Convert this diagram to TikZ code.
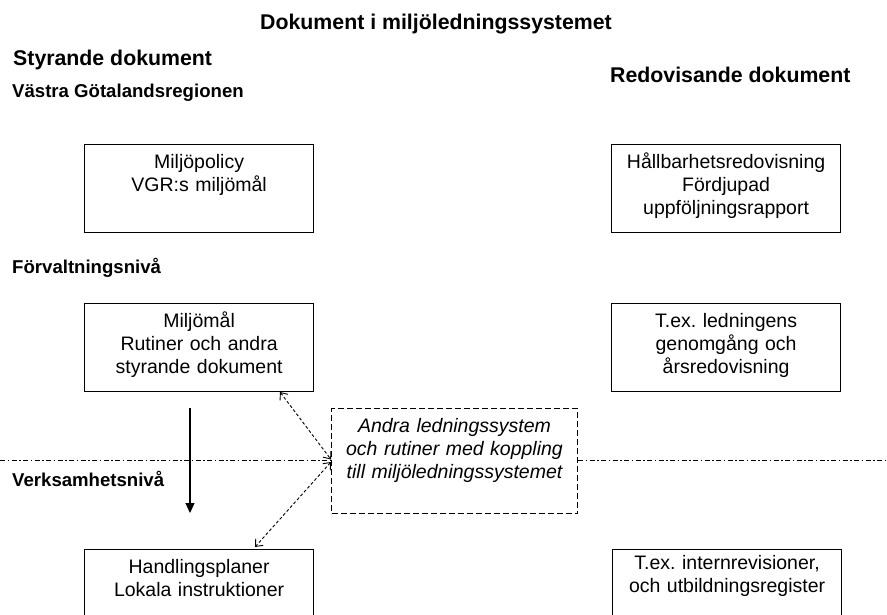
\documentclass[tikz,border=0pt]{standalone}
\usepackage{fontspec}
\setmainfont{Liberation Sans}
\usetikzlibrary{arrows.meta}
\frenchspacing
\def\boxfont{\fontsize{19.5}{23}\selectfont}
\def\headfont{\fontsize{21.3}{25}\selectfont\bfseries}
\def\levelfont{\fontsize{18.6}{22}\selectfont\bfseries}
\tikzset{
  docbox/.style={draw, line width=1.2pt, inner sep=0pt, align=center, anchor=north west,
    text width=229pt, text height=24pt, text depth=64pt, font=\boxfont},
  head/.style={anchor=base west, inner sep=0pt, font=\headfont},
  level/.style={anchor=base west, inner sep=0pt, font=\levelfont},
  link/.style={line width=0.9pt, dash pattern=on 3pt off 2.2pt,
    {Straight Barb[length=6pt,width=10pt]}-{Straight Barb[length=6pt,width=10pt]}},
  divider/.style={line width=0.8pt, dash pattern=on 5pt off 2.5pt on 1.5pt off 2.5pt}
}

\begin{document}
\begin{tikzpicture}[x=1pt,y=-1pt]
  \clip (0,0) rectangle (887,615);
  \fill[white] (0,0) rectangle (887,615);

  \node[anchor=base, inner sep=0pt, font=\headfont] (title) at (436,30) {Dokument i miljöledningssystemet};
  \node[head] (styr) at (13,66) {Styrande dokument};
  \node[level] (vgr) at (12,98) {Västra Götalandsregionen};
  \node[head] (redo) at (610,83) {Redovisande dokument};
  \node[level] (forv) at (12,273) {Förvaltningsnivå};
  \node[level] (verk) at (12,486) {Verksamhetsnivå};

  \node[docbox] (policy) at (84,144) {Miljöpolicy\\VGR:s miljömål};
  \node[docbox] (hallbar) at (611,144) {Hållbarhetsredovisning\\Fördjupad\\uppföljningsrapport};
  \node[docbox] (malbox) at (84,303) {Miljömål\\Rutiner och andra\\styrande dokument};
  \node[docbox] (ledgen) at (611,303) {T.ex. ledningens\\genomgång och\\årsredovisning};
  \node[docbox] (handl) at (84,549) {Handlingsplaner\\Lokala instruktioner};
  \node[docbox, text height=20pt, text depth=68pt] (intrev) at (612,549) {T.ex. internrevisioner,\\och utbildningsregister};
  \node[docbox, line width=1pt, dash pattern=on 6pt off 3pt, text width=246pt, text depth=81pt,
    font=\boxfont\itshape] (andra) at (331,408) {Andra ledningssystem\\och rutiner med koppling\\till miljöledningssystemet};

  \coordinate (lineL) at (0,460);
  \coordinate (lineR) at (887,460);
  \draw[divider] (lineL) -- (andra.west |- lineL);
  \draw[divider] (andra.east |- lineR) -- (lineR);

  \coordinate (down1) at (190,408);
  \coordinate (down2) at (190,513);
  \draw[line width=1.2pt, -{Triangle[length=10pt,width=9pt]}] (down1) -- (down2);

  \coordinate (malfot) at (280,392);
  \coordinate (handtop) at (255,547);
  \draw[link] (malfot) -- ([yshift=1.5pt]andra.west);
  \draw[link] ([yshift=-1pt]andra.west) -- (handtop);
\end{tikzpicture}
\end{document}
